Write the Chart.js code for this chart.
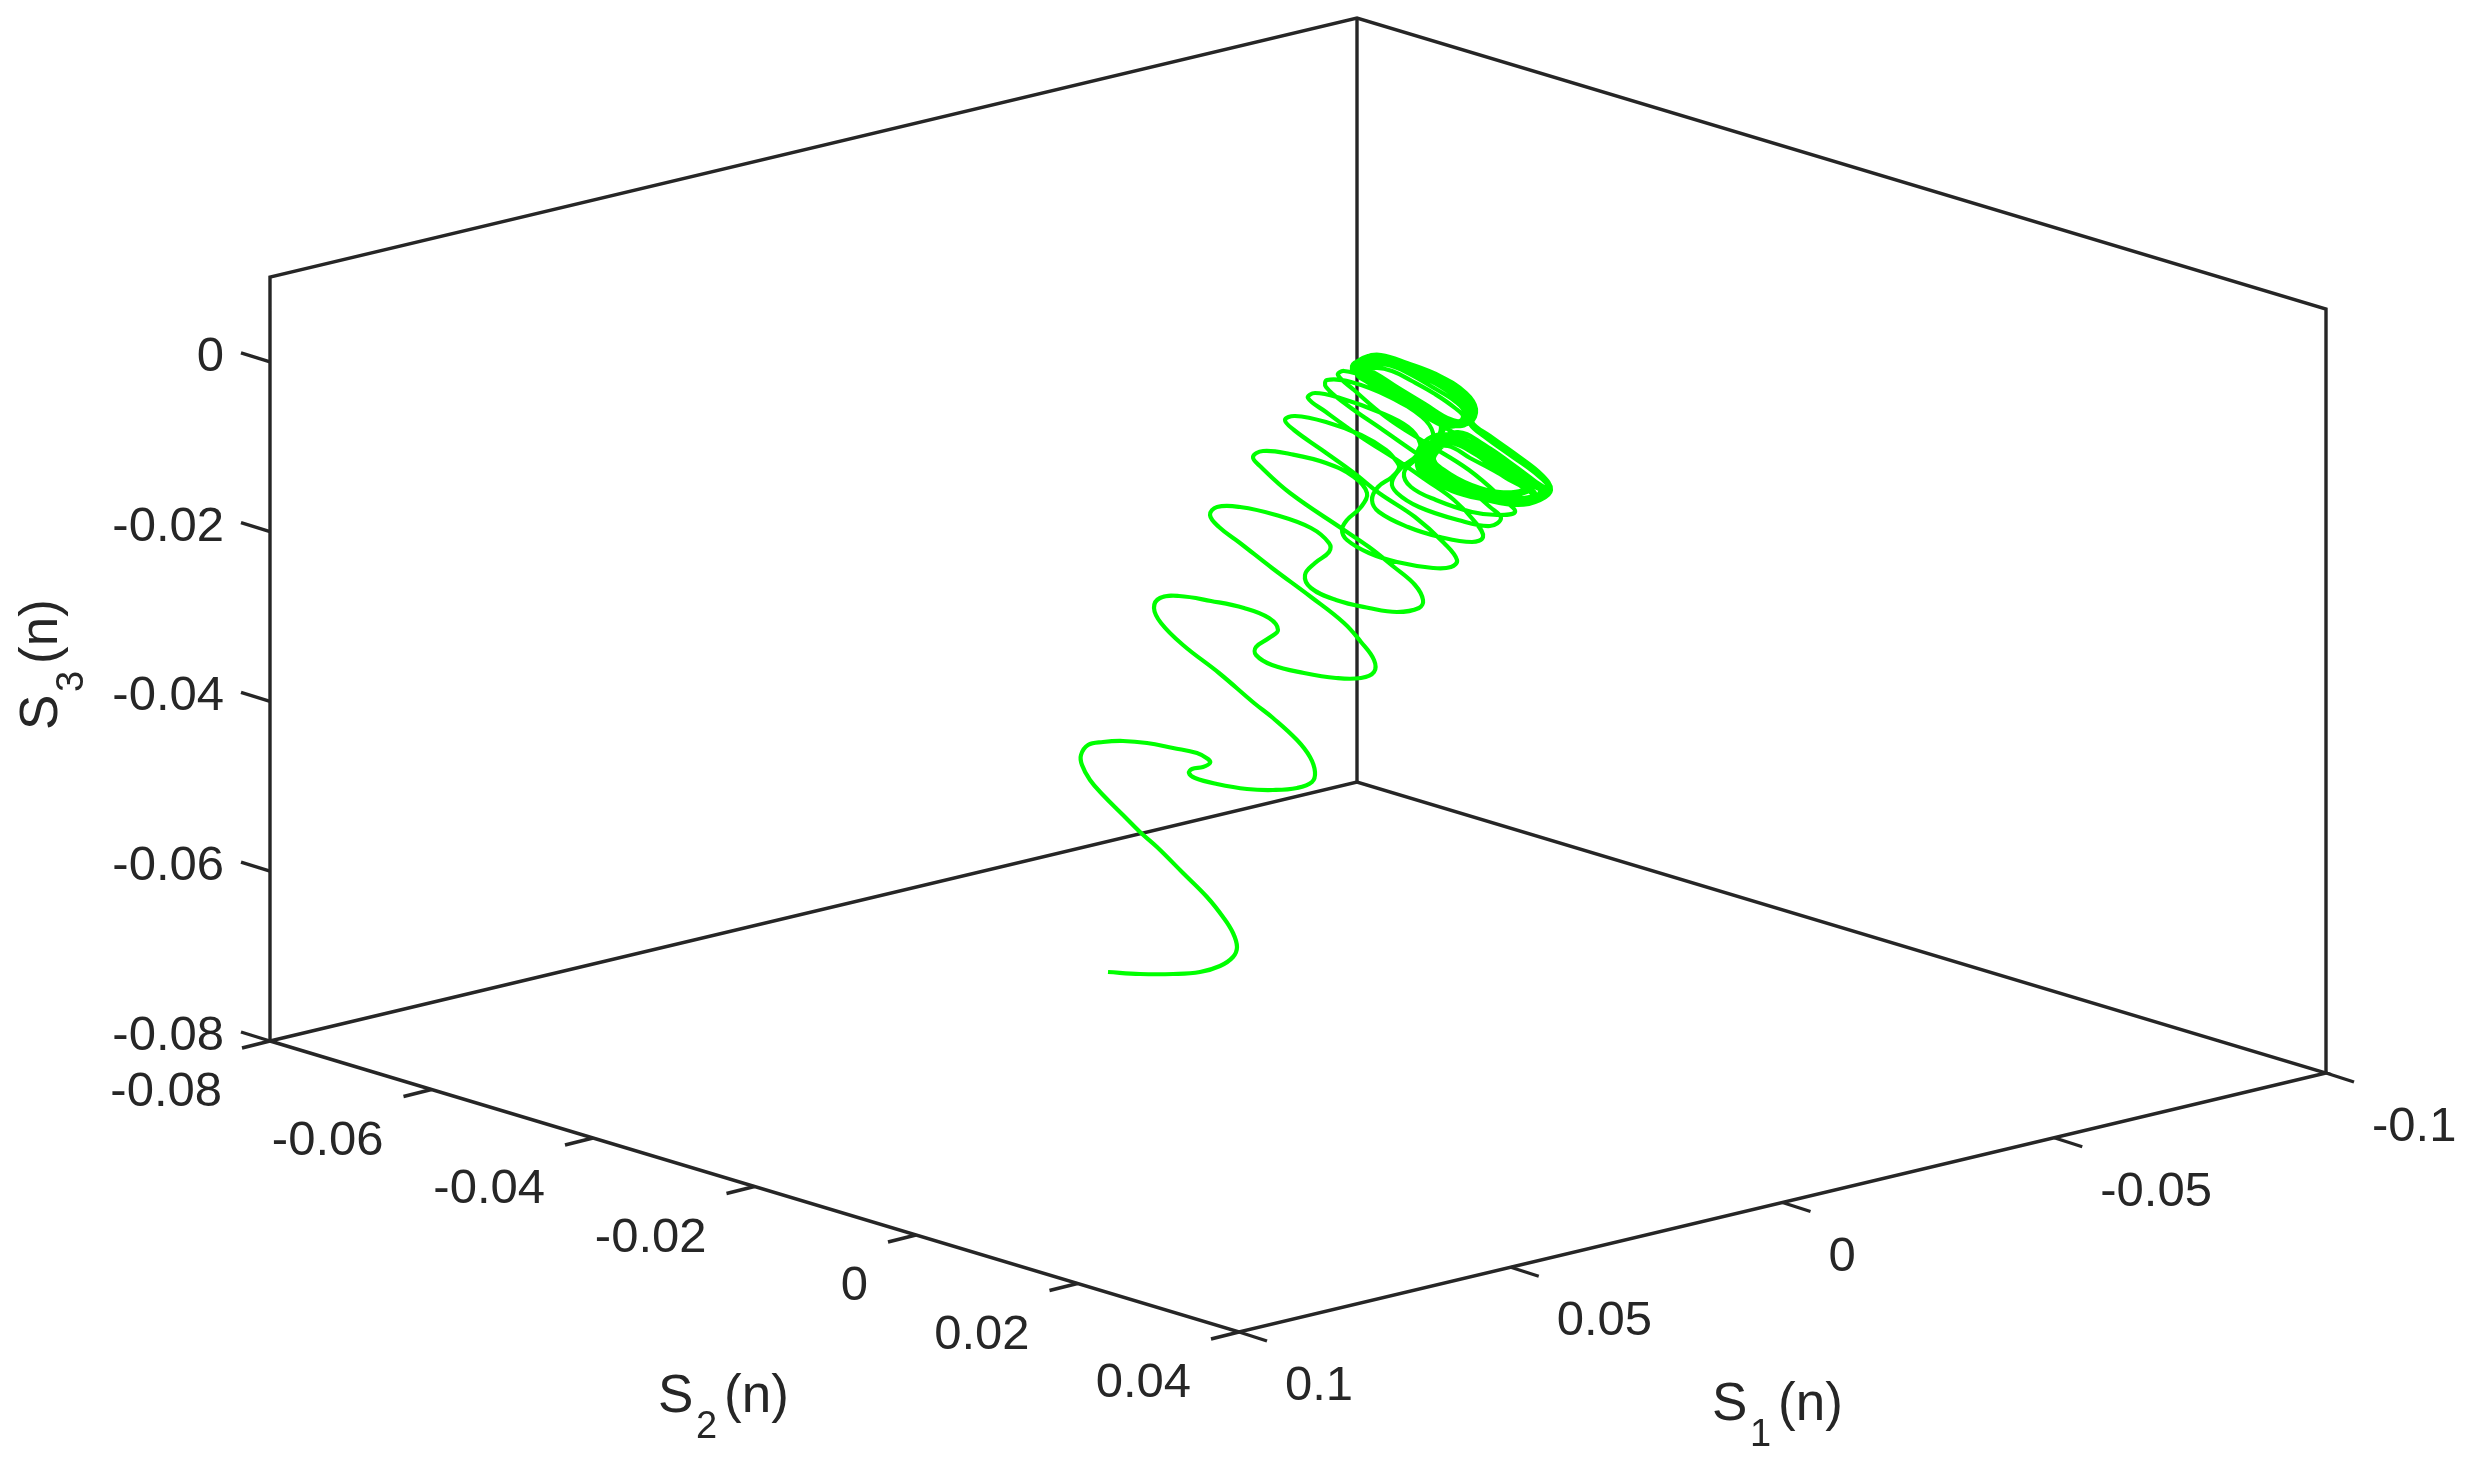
<!DOCTYPE html>
<html>
<head>
  <meta charset="utf-8"/>
  <script src="https://cdn.jsdelivr.net/npm/chart.js@4/dist/chart.umd.min.js"></script>
  <style>
    html, body { margin: 0; padding: 0; background: #ffffff; }
    canvas { display: block; }
  </style>
</head>
<body>
  <canvas id="chart" width="2471" height="1460"></canvas>
  <script>
    // axis limits and ticks of the 3D box
    var s1Limits = [-0.1, 0.1];
    var s2Limits = [-0.08, 0.04];
    var s3Limits = [-0.08, 0.01];
    var s1Ticks = [-0.1, -0.05, 0, 0.05, 0.1];
    var s2Ticks = [-0.08, -0.06, -0.04, -0.02, 0, 0.02, 0.04];
    var s3Ticks = [-0.08, -0.06, -0.04, -0.02, 0];
    var s1Labels = ["-0.1", "-0.05", "0", "0.05", "0.1"];
    var s2Labels = ["-0.08", "-0.06", "-0.04", "-0.02", "0", "0.02", "0.04"];
    var s3Labels = ["-0.08", "-0.06", "-0.04", "-0.02", "0"];

    // The trajectory in the plane of the view.
    var spiralIn = [
      [1108,972],[1140,974],[1173,974],[1200,972],[1220,966],[1233,957],[1237,947],[1233,933],[1223,917],[1207,897],
      [1183,873],[1157,847],[1140,832],[1123,815],[1103,795],[1090,780],[1082,765],[1081,755],[1088,745],[1103,742],
      [1123,741],[1147,743],[1173,748],[1197,753],[1208,759],[1210,763],[1203,767],[1192,769],[1189,773],[1195,778],
      [1217,784],[1247,789],[1273,790],[1297,788],[1312,782],[1315,772],[1310,757],[1297,740],[1273,718],[1254,703],
      [1219,673],[1183,645],[1161,623],[1154,608],[1160,598],[1179,596],[1211,601],[1244,608],[1269,618],[1278,630],
      [1269,638],[1256,647],[1256,655],[1272,665],[1304,673],[1336,678],[1361,678],[1374,672],[1374,660],[1361,642],
      [1344,623],[1311,597],[1272,568],[1240,543],[1219,527],[1210,515],[1217,507],[1240,507],[1276,515],[1311,528],
      [1329,543],[1329,552],[1315,563],[1305,575],[1311,588],[1336,600],[1369,608],[1397,612],[1419,608],[1423,600],
      [1415,585],[1394,567],[1369,547],[1344,530],[1290,493],[1261,467],[1253,457],[1263,451],[1290,454],[1326,463],
      [1354,477],[1367,493],[1361,507],[1347,520],[1342,530],[1347,540],[1369,553],[1397,562],[1433,568],[1451,567],
      [1457,560],[1444,543],[1415,517],[1379,493],[1354,473],[1322,450],[1294,430],[1285,420],[1295,416],[1326,422],
      [1361,435],[1386,450],[1397,462],[1399,468],[1392,477],[1378,487],[1372,500],[1379,512],[1408,527],[1440,537],
      [1472,542],[1483,537],[1476,523],[1454,500],[1426,480],[1397,460],[1361,437],[1326,412],[1308,398],[1315,393],
      [1340,398],[1379,412],[1408,427],[1420,443],[1417,455],[1402,467],[1392,482],[1397,493],[1419,507],[1458,520],
      [1490,526],[1501,518],[1490,507],[1458,480],[1422,457],[1383,430],[1347,405],[1326,387],[1327,380],[1351,382],
      [1390,397],[1422,417],[1433,433],[1429,447],[1415,460],[1404,473],[1411,487],[1436,500],[1472,512],[1497,515],
      [1515,512],[1504,500],[1469,470],[1426,443],[1386,417],[1354,390],[1338,375],[1344,371],[1369,378],[1404,395],
      [1433,413],[1441,428],[1432,445],[1418,458],[1420,472],[1445,486],[1485,498],[1520,503],[1535,498],[1520,482],
      [1490,458],[1460,437],[1430,418],[1400,398],[1370,378],[1352,368]
    ];
    var upperLobe = [
      [1366,357],[1381,355],[1407,363],[1440,376],[1466,393],[1476,409],[1470,423],[1452,423],[1428,410],[1400,393],
      [1375,376],[1358,368],[1368,360],[1383,358],[1406,366],[1438,380],[1462,396],[1472,410],[1467,421],[1450,419],
      [1425,404],[1397,387],[1375,373],[1360,367],[1370,362],[1385,361],[1405,369],[1436,384],[1458,399],[1468,411],
      [1470,424]
    ];
    var lowerLobe = [
      [1485,437],[1510,455],[1535,473],[1550,489],[1543,498],[1522,504],[1490,499],[1455,489],[1428,473],[1417,458],
      [1424,442],[1442,434],[1465,441],[1495,458],[1522,477],[1540,490],[1530,499],[1505,498],[1470,489],[1442,475],
      [1425,459],[1430,445],[1447,436],[1470,446],[1498,466],[1525,485],[1535,494],[1520,498],[1490,494],[1458,482],
      [1437,466],[1434,449],[1452,439],[1478,452],[1508,472],[1530,489],[1512,494],[1480,488],[1450,474],[1431,456]
    ];
    var upperReturn = [
      [1437,438],[1445,426],[1428,412],[1402,396],[1378,380],[1360,370],[1372,365],[1388,365],[1408,373],[1434,388],
      [1456,402],[1465,413],[1460,421],[1445,420],[1420,406],[1392,390],[1370,376],[1362,372],[1376,368],[1392,371],
      [1412,381],[1435,394],[1455,408],[1463,417],[1452,426],[1435,416],[1410,402],[1385,386],[1364,372],[1352,366],
      [1366,358],[1382,357],[1408,365],[1440,379],[1464,395],[1474,410],[1472,422],[1490,436],[1518,456],[1542,475],
      [1551,490],[1540,500],[1518,505],[1486,500],[1452,491],[1426,476],[1418,462],[1426,446],[1444,438],[1468,450],
      [1500,470],[1524,488],[1500,492],[1466,484],[1440,470],[1428,455],[1440,440],[1458,432],[1480,442],[1505,460],
      [1530,480],[1546,492],[1525,502]
    ];
    var denseLower = [
      [1505,501],[1470,492],[1440,478],[1420,462],[1425,448],[1445,442],[1472,452],[1503,476],[1532,494],[1515,501],
      [1482,495],[1450,484],[1430,468],[1422,455],[1434,444],[1454,438],[1476,444],[1502,462],[1530,484],[1545,494],
      [1528,502],[1495,496],[1462,486],[1436,472],[1423,460],[1430,450],[1448,446],[1470,458],[1498,473],[1525,491],
      [1500,496],[1470,491],[1445,480],[1428,464],[1436,452],[1462,436],[1486,446],[1512,464],[1536,482],[1547,491],
      [1520,499],[1488,491],[1452,478],[1434,460],[1442,446],[1450,432]
    ];
    var denseUpper = [
      [1440,424],[1422,413],[1398,399],[1378,386],[1358,371],[1358,364],[1380,356],[1407,365],[1440,378],[1465,396],
      [1474,412],[1466,424],[1447,424],[1418,408],[1395,395],[1372,380],[1356,370],[1372,359],[1392,361],[1412,367],
      [1440,382],[1462,399],[1470,413],[1462,424],[1438,419],[1412,405],[1390,392],[1368,378],[1354,368],[1372,362],
      [1395,364],[1416,373],[1442,386],[1460,402],[1468,415],[1458,425],[1444,426],[1418,412],[1392,398],[1370,384],
      [1356,372],[1372,358],[1396,360],[1420,371],[1444,383],[1464,399],[1472,414],[1462,426],[1430,418],[1405,403],
      [1382,389],[1362,376],[1352,368],[1368,356],[1390,358],[1415,369],[1445,385],[1468,401],[1475,414],[1465,425]
    ];

    // orthographic view of the box: S1 and S2 run along the floor, S3 straight up
    function project(s1, s2, s3) {
      var a = (s2 - s2Limits[0]) / (s2Limits[1] - s2Limits[0]);
      var b = (s1Limits[1] - s1) / (s1Limits[1] - s1Limits[0]);
      var c = (s3 - s3Limits[0]) / (s3Limits[1] - s3Limits[0]);
      return { x: 270 + a * 969 + b * 1087, y: 1041 + a * 291 - b * 259 - c * 764 };
    }

    function shifted(p, dx, dy) {
      return { x: p.x + dx, y: p.y + dy };
    }

    var segments = [];
    var s1Lo = s1Limits[0], s1Hi = s1Limits[1];
    var s2Lo = s2Limits[0], s2Hi = s2Limits[1];
    var s3Lo = s3Limits[0], s3Hi = s3Limits[1];
    // box edges
    segments.push([project(s1Hi, s2Lo, s3Lo), project(s1Lo, s2Lo, s3Lo), project(s1Lo, s2Hi, s3Lo), project(s1Hi, s2Hi, s3Lo), project(s1Hi, s2Lo, s3Lo)]);
    segments.push([project(s1Hi, s2Lo, s3Lo), project(s1Hi, s2Lo, s3Hi), project(s1Lo, s2Lo, s3Hi), project(s1Lo, s2Hi, s3Hi), project(s1Lo, s2Hi, s3Lo)]);
    segments.push([project(s1Lo, s2Lo, s3Lo), project(s1Lo, s2Lo, s3Hi)]);
    // tick marks
    s1Ticks.forEach(function(t) {
      var p = project(t, s2Hi, s3Lo);
      segments.push([p, shifted(p, 28, 9)]);
    });
    s2Ticks.forEach(function(t) {
      var p = project(s1Hi, t, s3Lo);
      segments.push([p, shifted(p, -28, 7)]);
    });
    s3Ticks.forEach(function(t) {
      var p = project(s1Hi, s2Lo, t);
      segments.push([p, shifted(p, -29, -9)]);
    });

    var curve = spiralIn.concat(upperLobe, lowerLobe, upperReturn, denseLower, denseUpper).map(function(p) {
      return { x: p[0], y: p[1] };
    });

    var datasets = segments.map(function(seg) {
      return {
        data: seg,
        showLine: true,
        pointRadius: 0,
        borderColor: "#262626",
        borderWidth: 3.4,
        borderJoinStyle: "miter",
        order: 1
      };
    });
    datasets.push({
      data: curve,
      showLine: true,
      pointRadius: 0,
      borderColor: "#00ff00",
      borderWidth: 4.2,
      borderJoinStyle: "round",
      tension: 0.4,
      order: 0
    });

    var tickFont = "49px 'Liberation Sans'";
    var labelFont = "53px 'Liberation Sans'";
    var subFont = "38px 'Liberation Sans'";

    // "S", lowered index, "(n)" written along the current x direction
    function axisName(ctx, index) {
      ctx.textAlign = "left";
      ctx.textBaseline = "alphabetic";
      ctx.font = labelFont;
      ctx.fillText("S", 0, 0);
      ctx.fillText("(n)", 66, 0);
      ctx.font = subFont;
      ctx.fillText(index, 38, 26);
    }

    var boxText = {
      id: "boxText",
      afterDraw: function(chart) {
        var ctx = chart.ctx;
        var sx = chart.scales.x, sy = chart.scales.y;
        function put(text, p, dx, dy, align) {
          ctx.textAlign = align;
          ctx.fillText(text, sx.getPixelForValue(p.x) + dx, sy.getPixelForValue(p.y) + dy);
        }
        ctx.save();
        ctx.fillStyle = "#262626";
        ctx.font = tickFont;
        ctx.textBaseline = "alphabetic";
        s1Ticks.forEach(function(t, i) { put(s1Labels[i], project(t, s2Hi, s3Lo), 46, 68, "left"); });
        s2Ticks.forEach(function(t, i) { put(s2Labels[i], project(s1Hi, t, s3Lo), -48, 65, "right"); });
        s3Ticks.forEach(function(t, i) { put(s3Labels[i], project(s1Hi, s2Lo, t), -46, 9, "right"); });

        ctx.save();
        ctx.translate(1712, 1420);
        axisName(ctx, "1");
        ctx.restore();
        ctx.save();
        ctx.translate(658, 1412);
        axisName(ctx, "2");
        ctx.restore();
        ctx.save();
        ctx.translate(57, 730);
        ctx.rotate(-Math.PI / 2);
        axisName(ctx, "3");
        ctx.restore();
        ctx.restore();
      }
    };

    new Chart(document.getElementById("chart"), {
      type: "scatter",
      data: { datasets: datasets },
      options: {
        responsive: false,
        animation: false,
        layout: { padding: 0 },
        plugins: { legend: { display: false }, tooltip: { enabled: false } },
        scales: {
          x: { type: "linear", display: false, min: 0, max: 2471 },
          y: { type: "linear", display: false, min: 0, max: 1460, reverse: true }
        }
      },
      plugins: [boxText]
    });
  </script>
</body>
</html>
